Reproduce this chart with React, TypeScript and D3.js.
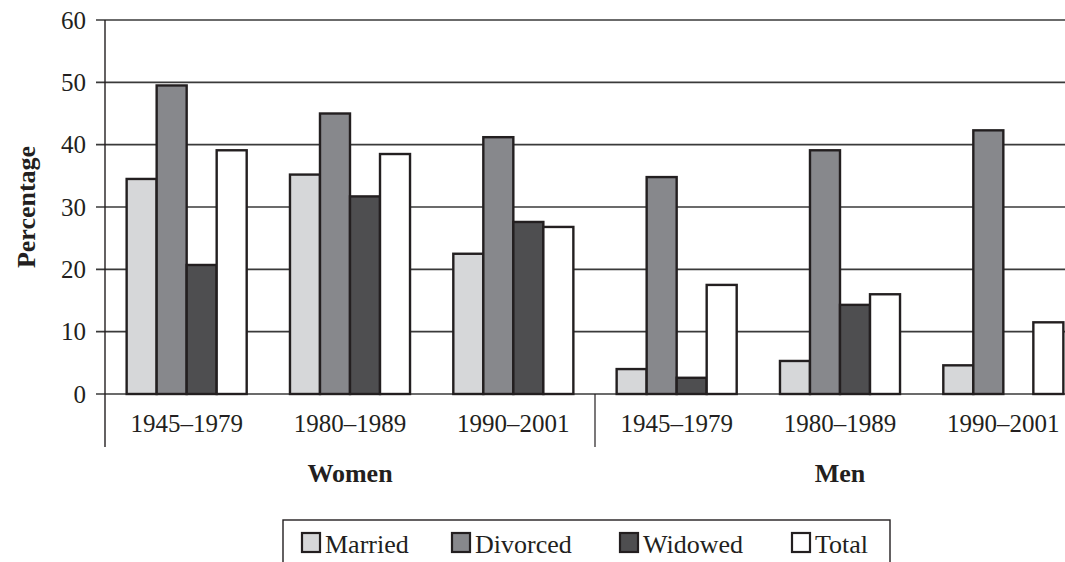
import React from 'react';
import * as d3 from 'd3';

const sexes = ['Women', 'Men'];
const periods = ['1945–1979', '1980–1989', '1990–2001'];
const seriesNames = ['Married', 'Divorced', 'Widowed', 'Total'];
const married = [34.5, 35.2, 22.5, 4.0, 5.3, 4.6];
const divorced = [49.5, 45.0, 41.2, 34.8, 39.1, 42.3];
const widowed = [20.7, 31.7, 27.6, 2.6, 14.3, null];
const total = [39.1, 38.5, 26.8, 17.5, 16.0, 11.5];
const yTicks = [0, 10, 20, 30, 40, 50, 60];

const seriesValues = [married, divorced, widowed, total];
const colors = ['#d6d7d9', '#87888c', '#4e4e50', '#ffffff'];

const W = 1065;
const H = 562;
const FONT = '"Liberation Serif", "DejaVu Serif", serif';

const App: React.FC = () => {
  const left = 105;
  const right = 1085;
  const top = 20;
  const bottom = 394;

  const groups = sexes.flatMap(s => periods.map(p => `${s}|${p}`));
  const x = d3.scaleBand<string>().domain(groups).range([left, right])
    .paddingInner(0.265).paddingOuter(0.1325);
  const xs = d3.scaleBand<string>().domain(seriesNames).range([0, x.bandwidth()]);
  const y = d3.scaleLinear().domain([0, 60]).range([bottom, top]);

  const step = x.step();
  const sexCenter = (i: number) => left + step * (i * 3 + 1.5);

  const legendX = [302, 452, 620, 792];

  return (
    <svg width={W} height={H} style={{ position: 'absolute', left: 0, top: 0, background: '#fff' }}
      fontFamily={FONT}>
      {/* grid + ticks */}
      {yTicks.map(t => (
        <g key={t}>
          <line x1={96} x2={W} y1={y(t)} y2={y(t)} stroke="#3a3a3a" strokeWidth={1.6} />
          <text x={86} y={y(t)} dy="0.35em" textAnchor="end" fontSize={25} fill="#231f20">{t}</text>
        </g>
      ))}

      {/* bars */}
      {groups.map((g, gi) => (
        <g key={g} transform={`translate(${x(g)},0)`}>
          {seriesNames.map((s, si) => {
            const v = seriesValues[si][gi];
            if (v == null) return null;
            return (
              <rect key={s} x={xs(s)} y={y(v)} width={xs.bandwidth()} height={y(0) - y(v)}
                fill={colors[si]} stroke="#231f20" strokeWidth={2.4} />
            );
          })}
        </g>
      ))}

      {/* axis + divider */}
      <line x1={left} x2={left} y1={top} y2={447} stroke="#231f20" strokeWidth={1.4} />
      <line x1={left + step * 3} x2={left + step * 3} y1={bottom} y2={447} stroke="#231f20" strokeWidth={1.2} />

      {/* category labels */}
      {groups.map(g => (
        <text key={g} x={(x(g) as number) + x.bandwidth() / 2} y={432} textAnchor="middle"
          fontSize={25} fill="#231f20">{g.split('|')[1]}</text>
      ))}
      {sexes.map((s, i) => (
        <text key={s} x={sexCenter(i)} y={482} textAnchor="middle" fontSize={26}
          fontWeight="bold" fill="#231f20">{s}</text>
      ))}

      <text transform={`translate(35,${(top + bottom) / 2}) rotate(-90)`} textAnchor="middle"
        fontSize={26} fontWeight="bold" fill="#231f20">Percentage</text>

      {/* legend */}
      <rect x={283} y={520} width={607} height={60} fill="#fff" stroke="#231f20" strokeWidth={1.4} />
      {seriesNames.map((s, i) => (
        <g key={s}>
          <rect x={legendX[i]} y={533} width={18} height={19} fill={colors[i]} stroke="#231f20" strokeWidth={2.2} />
          <text x={legendX[i] + 23} y={553} fontSize={26} fill="#231f20">{s}</text>
        </g>
      ))}
    </svg>
  );
};

export default App;
